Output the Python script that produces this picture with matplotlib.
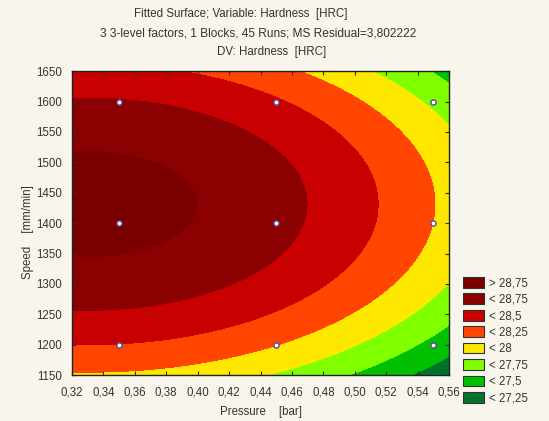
import matplotlib
matplotlib.use("Agg")
import matplotlib.pyplot as plt
import numpy as np
from matplotlib.patches import Patch

plt.rcParams['font.family'] = ['Liberation Sans', 'DejaVu Sans']

# design points (3-level factors) and fitted hardness at each point
pressure = [0.35, 0.45, 0.55]
speed = [1200, 1400, 1600]
# rows = pressure, cols = speed
hardness = [[28.243, 28.815, 28.514],
            [28.005, 28.576, 28.276],
            [27.426, 27.997, 27.696]]

levels = [27.25, 27.5, 27.75, 28.0, 28.25, 28.5, 28.75]
colors = ['#00722a', '#00c000', '#80ff00', '#ffe800',
          '#ff4500', '#c80000', '#8b0000', '#7a0000']
labels = ['> 28,75', '< 28,75', '< 28,5', '< 28,25', '< 28',
          '< 27,75', '< 27,5', '< 27,25']

xticks = np.arange(0.32, 0.561, 0.02)
yticks = np.arange(1150, 1651, 50)

# quadratic response surface fitted to the design points
P, S = np.meshgrid(pressure, speed, indexing='ij')
H = np.array(hardness)
def terms(p, s):
    x = (p - 0.45) / 0.1
    y = (s - 1400) / 200.0
    return np.stack([np.ones_like(x), x, y, x * x, y * y, x * y], axis=-1)
coef, *_ = np.linalg.lstsq(terms(P, S).reshape(-1, 6), H.ravel(), rcond=None)

pg = np.linspace(0.32, 0.56, 300)
sg = np.linspace(1150, 1650, 300)
PG, SG = np.meshgrid(pg, sg)
Z = terms(PG, SG) @ coef

bg = '#f8f6ec'
txt = '#333333'
fig = plt.figure(figsize=(5.49, 4.21), dpi=100, facecolor=bg)
ax = fig.add_axes([0.131, 0.109, 0.687, 0.722])

ax.contourf(PG, SG, Z, levels=[20] + levels + [40], colors=colors)
ax.scatter(P.ravel(), S.ravel(), s=14, facecolor='white',
           edgecolor='#5a4a9a', linewidth=1.0, zorder=3)

ax.set_xlim(0.32, 0.56)
ax.set_ylim(1150, 1650)
ax.set_xticks(xticks)
ax.set_xticklabels([('%.2f' % t).replace('.', ',') for t in xticks])
ax.set_yticks(yticks)
ax.tick_params(direction='in', top=True, right=True, labelsize=8.3,
               length=3, colors=txt)
ax.tick_params(axis='x', pad=8)
ax.tick_params(axis='y', pad=7)
for sp in ax.spines.values():
    sp.set_color('#222222')
    sp.set_linewidth(1.0)

ax.set_xlabel('Pressure    [bar]', fontsize=8.3, color=txt, va='center')
ax.xaxis.set_label_coords(0.5, -0.123)
ax.set_ylabel('Speed    [mm/min]', fontsize=8.3, color=txt, va='center')
ax.yaxis.set_label_coords(-0.117, 0.47)

fig.text(241 / 549, 1 - 14 / 421, 'Fitted Surface; Variable: Hardness  [HRC]',
         ha='center', va='center', fontsize=8.3, color=txt)
fig.text(258 / 549, 1 - 33 / 421, '3 3-level factors, 1 Blocks, 45 Runs; MS Residual=3,802222',
         ha='center', va='center', fontsize=8.6, color=txt)
fig.text(272 / 549, 1 - 52 / 421, 'DV: Hardness  [HRC]',
         ha='center', va='center', fontsize=8.3, color=txt)

handles = [Patch(facecolor=c, edgecolor='#333333', linewidth=0.8)
           for c in colors[::-1]]
fig.legend(handles, labels, loc='upper left', bbox_to_anchor=(0.835, 0.353),
           frameon=False, fontsize=8.3, handlelength=1.85, handleheight=1.05,
           labelspacing=0.36, handletextpad=0.4, labelcolor=txt,
           borderaxespad=0)

fig.savefig('out.png', dpi=100, facecolor=bg)
